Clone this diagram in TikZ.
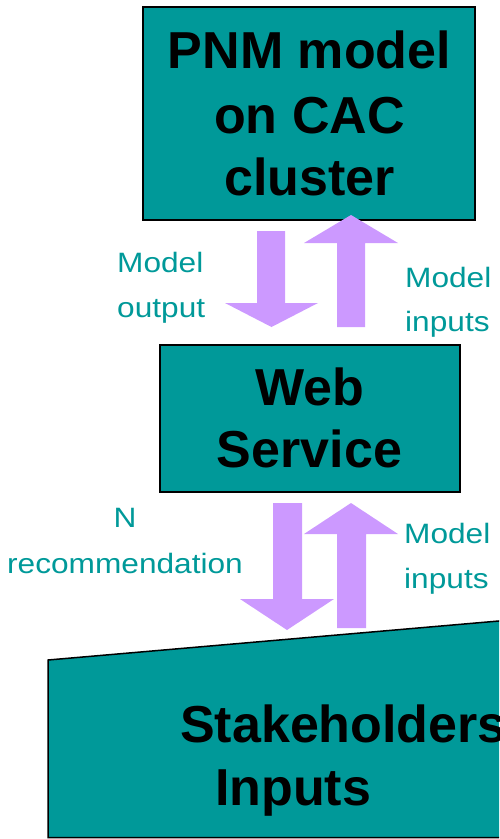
\documentclass[tikz,border=0pt]{standalone}
\usepackage{fontspec}
\setmainfont{Liberation Sans}
\newfontfamily\labfont[FakeStretch=1.13]{Liberation Sans}
\definecolor{tealbox}{HTML}{009999}
\definecolor{lav}{HTML}{CC99FF}
\begin{document}
\begin{tikzpicture}[x=1pt,y=-1pt,
  boxst/.style={draw=black, line width=2pt, fill=tealbox, inner sep=0pt},
  bt/.style={font=\fontsize{52}{62}\selectfont\bfseries, anchor=base, inner sep=0pt},
  btl/.style={font=\fontsize{52}{62}\selectfont\bfseries, anchor=base west, inner sep=0pt},
  lt/.style={font=\labfont\fontsize{28}{45}\selectfont, text=tealbox, anchor=base west, inner sep=0pt},
  ltc/.style={font=\labfont\fontsize{28}{45}\selectfont, text=tealbox, anchor=base, inner sep=0pt},
  arr/.style={fill=lav, draw=none}]
\useasboundingbox (0,0) rectangle (499,839);
\clip (0,0) rectangle (499,839);
% boxes
\node[boxst, minimum width=332pt, minimum height=213pt] (pnm) at (309,113.5) {};
\node[boxst, minimum width=300pt, minimum height=147pt] (web) at (310,418.5) {};
\coordinate (stA) at (48,660);
\coordinate (stB) at (560,615.7);
\coordinate (stC) at (560,837.5);
\coordinate (stD) at (48,837.5);
\draw[fill=tealbox, line width=1.5pt] (stA) -- (stB) -- (stC) -- (stD) -- cycle;
% box texts
\node[bt] (t1) at (309.5,68) {PNM model};
\node[bt] (t2) at (309.5,133) {on CAC};
\node[bt] (t3) at (309.5,195) {cluster};
\node[bt] (t4) at (309.5,405) {Web};
\node[bt] (t5) at (309.5,467) {Service};
\node[btl] (t6) at (180,742) {Stakeholders};
\node[btl] (t7) at (215,805) {Inputs};
% block arrows (top pair)
\fill[arr] (257,231) -- (285,231) -- (285,303) -- (318,303) -- (271.5,327) -- (225,303) -- (257,303) -- cycle;
\fill[arr] (337,327) -- (365,327) -- (365,243) -- (398,243) -- (351,215) -- (304,243) -- (337,243) -- cycle;
% block arrows (bottom pair)
\fill[arr] (273,503) -- (302,503) -- (302,599) -- (334,599) -- (287,630) -- (240,599) -- (273,599) -- cycle;
\fill[arr] (337,628) -- (366,628) -- (366,534) -- (398,534) -- (351,503) -- (304,534) -- (337,534) -- cycle;
% labels
\node[lt] (l1) at (117,272) {Model};
\node[lt] (l2) at (117,317) {output};
\node[lt] (l3) at (405,287) {Model};
\node[lt] (l4) at (405,331) {inputs};
\node[ltc] (l5) at (125,527) {N};
\node[lt] (l6) at (7,573) {recommendation};
\node[lt] (l7) at (404,543) {Model};
\node[lt] (l8) at (404,588) {inputs};
\end{tikzpicture}
\end{document}
